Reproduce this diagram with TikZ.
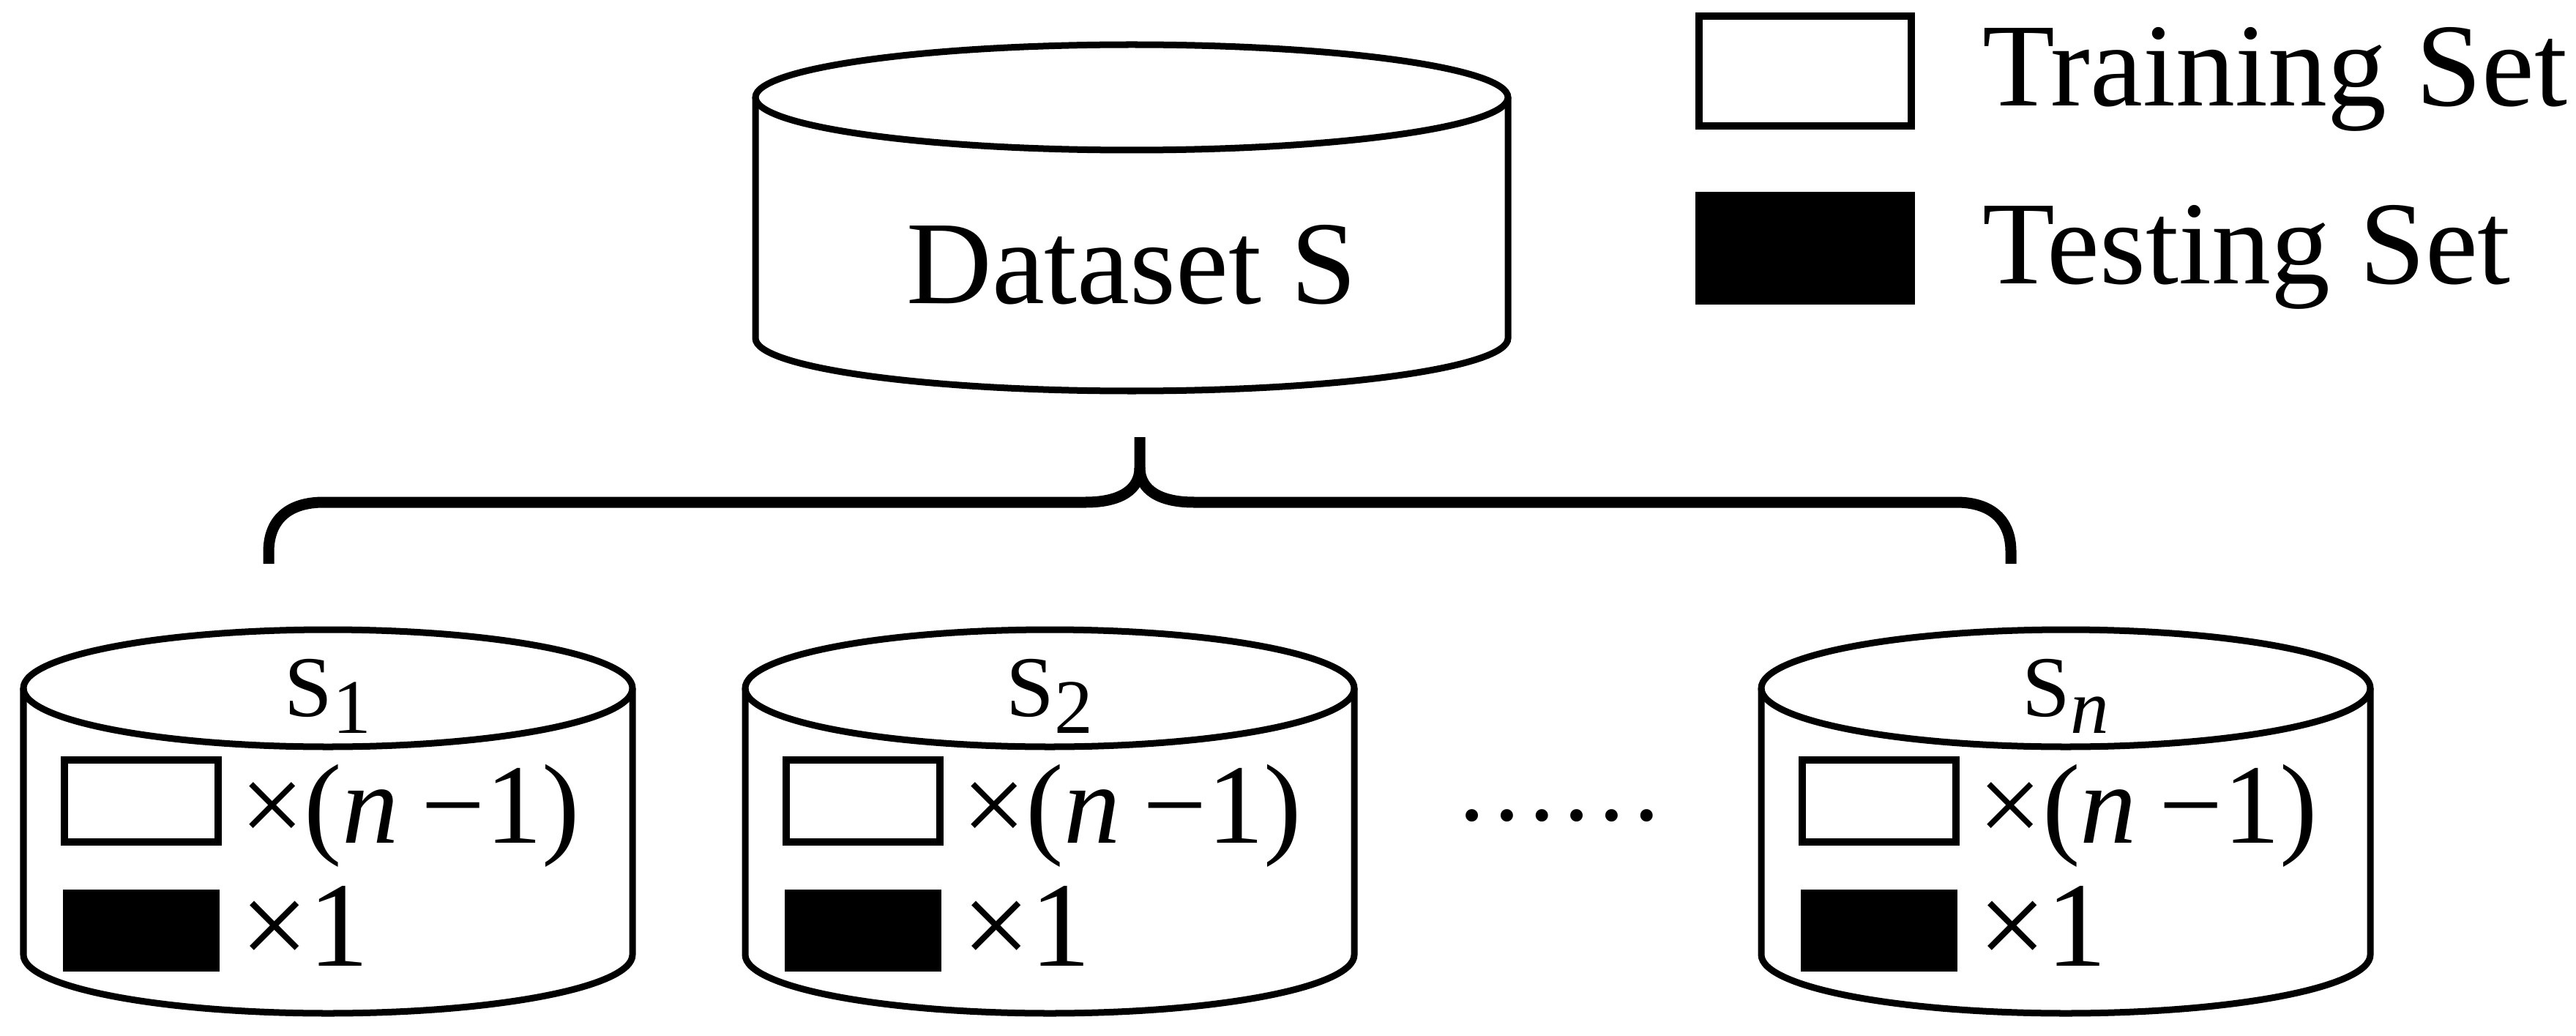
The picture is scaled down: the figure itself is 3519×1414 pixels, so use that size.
\documentclass[tikz,border=0pt]{standalone}
\usepackage{fontspec}
\setmainfont{Liberation Serif}
\usetikzlibrary{positioning}

% cylinder: centre x, top centre y, bottom centre y, x radius, y radius
\newcommand{\drawcyl}[5]{%
  \fill[white] (#1-#4,#2) -- (#1-#4,#3)
    arc[start angle=180, end angle=360, x radius=#4, y radius=#5]
    -- (#1+#4,#2)
    arc[start angle=0, end angle=180, x radius=#4, y radius=#5] -- cycle;
  \draw[cyl] (#1-#4,#2) -- (#1-#4,#3)
    arc[start angle=180, end angle=360, x radius=#4, y radius=#5]
    -- (#1+#4,#2);
  \draw[cyl] (#1,#2) ellipse[x radius=#4, y radius=#5];
}
\newcommand{\setlab}[1]{S\raisebox{-6.8pt}{\fontsize{30}{30}\selectfont #1}}

\begin{document}
\begin{tikzpicture}[
    x=0.01cm, y=0.01cm,
    cyl/.style={
        line width=0.09cm
    },
    bigtxt/.style={
        font=\fontsize{46}{50}\selectfont,
        inner sep=0pt
    },
    labtxt/.style={
        font=\fontsize{33.6}{36}\selectfont,
        inner sep=0pt
    },
    multtxt/.style={
        font=\fontsize{44}{48}\selectfont,
        inner sep=0pt
    },
    onetxt/.style={
        font=\fontsize{47}{50}\selectfont,
        inner sep=0pt
    },
    trainbox/.style={
        draw,
        fill=white,
        line width=0.1cm,
        inner sep=0pt,
        minimum width=2.1cm,
        minimum height=1.11cm
    },
    testbox/.style={
        fill=black,
        inner sep=0pt,
        minimum width=2.14cm,
        minimum height=1.12cm
    },
    brace/.style={
        line width=0.15cm,
        line join=round
    }
]

\fill[white] (0,0) rectangle (3519,1414);
\useasboundingbox (0,0) rectangle (3519,1414);

% whole dataset
\drawcyl{1546}{1281}{952}{514}{72}
\node[bigtxt, anchor=base] (dataset) at (1546,999) {Dataset S};

% legend
\node[trainbox, minimum width=2.9cm, minimum height=1.5cm] (legtrain) at (2466,1317) {};
\node[testbox, minimum width=3cm, minimum height=1.53cm] (legtest) at (2466,1075) {};
\node[bigtxt, anchor=base west] (trainlbl) at (2708,1269) {Training Set};
\node[bigtxt, anchor=base west] (testlbl) at (2708,1027) {Testing Set};

% brace
\draw[brace] (367,644) -- (367,660) .. controls (367,705) and (395,728) .. (442,728)
    -- (1483,728) .. controls (1530,728) and (1557,745) .. (1557,775) -- (1557,817);
\draw[brace] (1557,775) .. controls (1557,745) and (1584,728) .. (1631,728)
    -- (2672,728) .. controls (2719,728) and (2747,705) .. (2747,660) -- (2747,644);

% subsets
\foreach \cx/\sub/\nm in {448/1/one, 1434/2/two, 2822/\textit{n}/last} {
    \drawcyl{\cx}{474}{110}{416}{80}
    \node[labtxt, anchor=base] (lab\nm) at (\cx,436) {\setlab{\sub}};
    \node[trainbox] (train\nm) at (\cx-255,320) {};
    \node[testbox] (test\nm) at (\cx-255,143) {};
    \node[multtxt, anchor=base west] (ntrain\nm) at (\cx-120,263) {×(\textit{n}\hspace{0.2em}−1)};
    \node[onetxt, anchor=base west] (ntest\nm) at (\cx-120,95) {×1};
}

\node[font=\fontsize{40.6}{44}\selectfont, inner sep=0pt, anchor=base] (dots) at (2130,294) {……};

\end{tikzpicture}
\end{document}
